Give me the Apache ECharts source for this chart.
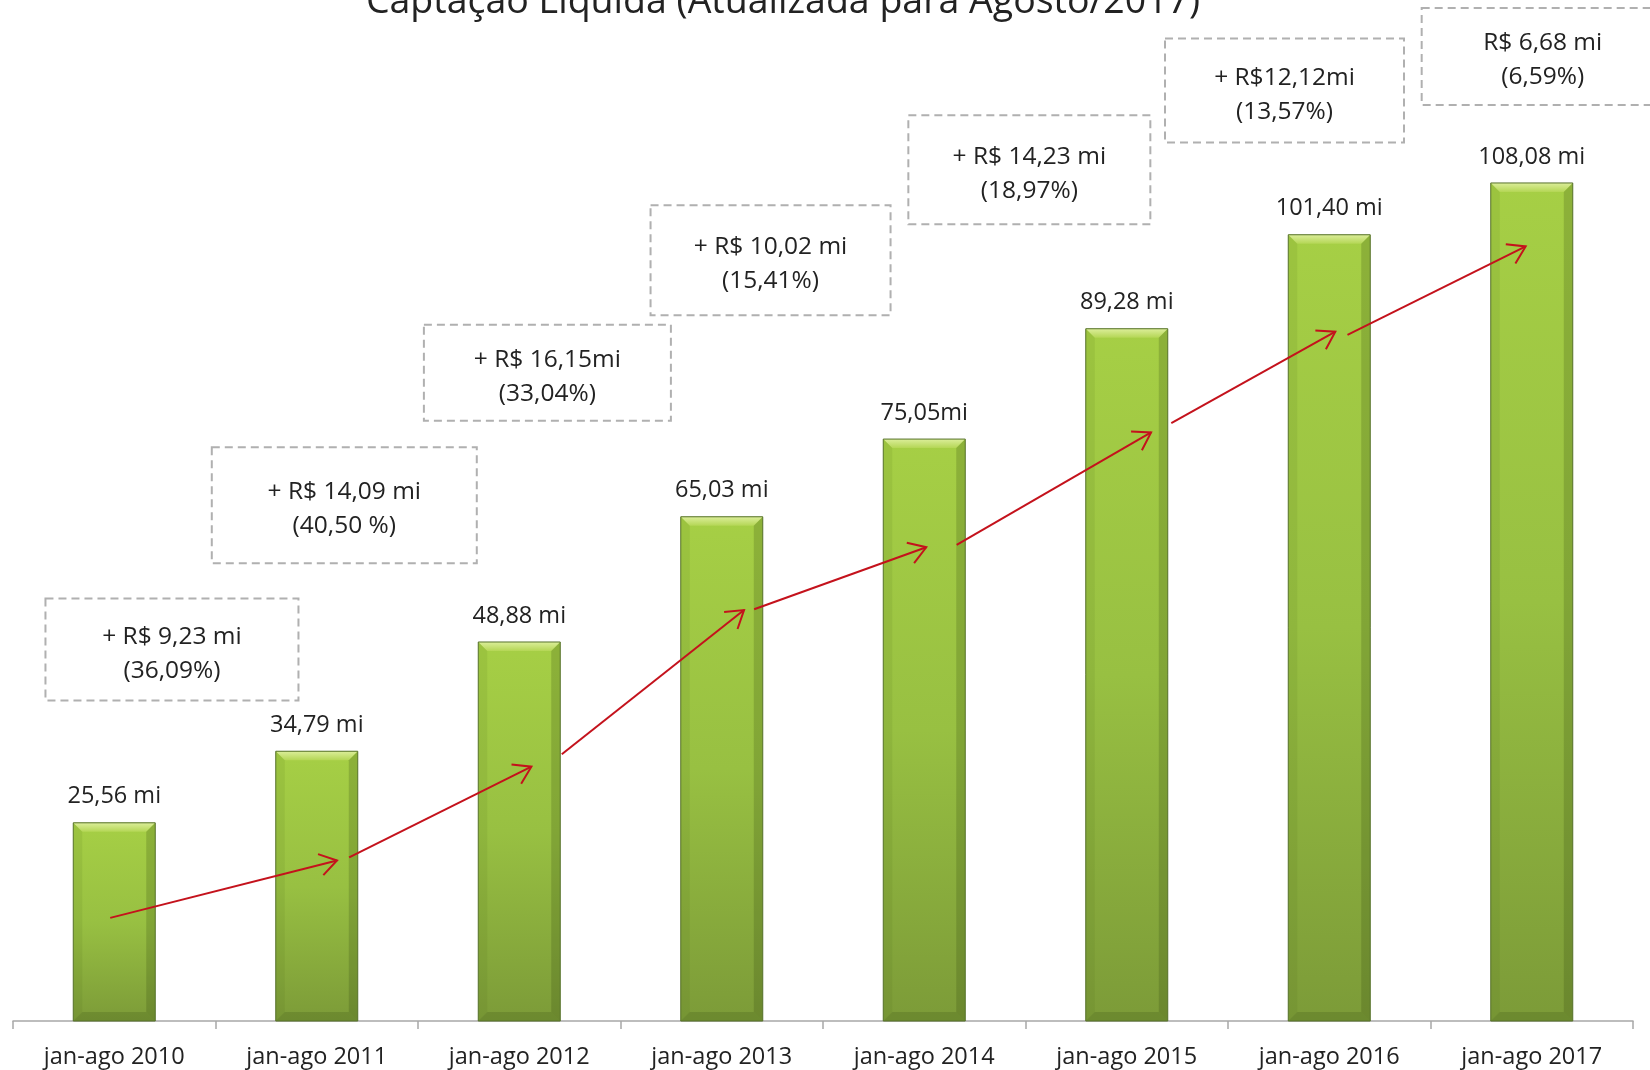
<!DOCTYPE html>
<html>
<head>
<meta charset="utf-8">
<script src="https://cdn.jsdelivr.net/npm/echarts@6/dist/echarts.min.js"></script>
<style>
html,body{margin:0;padding:0;background:#ffffff;}
#chart{width:1650px;height:1070px;}
</style>
</head>
<body>
<div id="chart"></div>
<script>
// ---------- DATA ----------
const categories = ['jan-ago 2010','jan-ago 2011','jan-ago 2012','jan-ago 2013','jan-ago 2014','jan-ago 2015','jan-ago 2016','jan-ago 2017'];
const values = [25.56, 34.79, 48.88, 65.03, 75.05, 89.28, 101.40, 108.08];
const valueLabels = ['25,56 mi','34,79 mi','48,88 mi','65,03 mi','75,05mi','89,28 mi','101,40 mi','108,08 mi'];
const growthAmounts = ['+ R$ 9,23 mi','+ R$ 14,09 mi','+ R$ 16,15mi','+ R$ 10,02 mi','+ R$ 14,23 mi','+ R$12,12mi','R$ 6,68 mi'];
const growthPercents = ['(36,09%)','(40,50 %)','(33,04%)','(15,41%)','(18,97%)','(13,57%)','(6,59%)'];
const titleText = 'Captação Líquida (Atualizada para Agosto/2017)';

// ---------- ANNOTATION LAYOUT (category index, value units / px sizes) ----------
// arrows: [xStart, yStart, xEnd, yEnd]
const arrowLayout = [
  [-0.02, 13.3, 1.10, 20.7],
  [1.16, 21.1, 2.06, 32.8],
  [2.21, 34.4, 3.11, 53.0],
  [3.16, 53.1, 4.01, 61.1],
  [4.16, 61.4, 5.12, 75.9],
  [5.22, 77.1, 6.03, 88.9],
  [6.09, 88.5, 6.97, 99.9]
];
// boxes: [xCenter, yCenter, widthPx, heightPx]
const boxLayout = [
  [0.285, 47.9, 253, 102],
  [1.136, 66.5, 265, 116],
  [2.139, 83.6, 247, 96],
  [3.241, 98.1, 240, 110],
  [4.519, 109.8, 242, 109],
  [5.779, 120.0, 239, 104],
  [7.054, 124.4, 242, 97]
];

const FONT = '"Open Sans", "Noto Sans", sans-serif';
const TEXT_COLOR = '#222222';
const BAR_W = 82;
const ARROW_COLOR = '#C4121C';

function renderBevel(params, api) {
  const idx = api.value(0), v = api.value(1);
  const top = api.coord([idx, v]);
  const base = api.coord([idx, 0]);
  const x = top[0], t = top[1], bY = base[1];
  const h = BAR_W / 2, b = 9;
  return {
    type: 'group',
    children: [
      { type: 'polygon', shape: { points: [[x-h,t],[x+h,t],[x+h-b,t+b],[x-h+b,t+b]] },
        style: { fill: new echarts.graphic.LinearGradient(0,0,0,1,[{offset:0,color:'#DCEE9A'},{offset:1,color:'#B4D655'}]) } },
      { type: 'polygon', shape: { points: [[x-h,t],[x-h+b,t+b],[x-h+b,bY-b],[x-h,bY]] },
        style: { fill: 'rgba(70,100,20,0.10)' } },
      { type: 'polygon', shape: { points: [[x+h,t],[x+h-b,t+b],[x+h-b,bY-b],[x+h,bY]] },
        style: { fill: 'rgba(40,60,10,0.20)' } },
      { type: 'polygon', shape: { points: [[x-h,bY],[x-h+b,bY-b],[x+h-b,bY-b],[x+h,bY]] },
        style: { fill: 'rgba(40,60,10,0.18)' } },
      { type: 'rect', shape: { x: x-h, y: t, width: BAR_W, height: bY - t },
        style: { fill: null, stroke: '#56712A', lineWidth: 1 } }
    ]
  };
}

function renderArrow(params, api) {
  const a = api.coord([api.value(0), api.value(1)]);
  const b = api.coord([api.value(2), api.value(3)]);
  const ang = Math.atan2(b[1]-a[1], b[0]-a[0]);
  const L = 20, sp = Math.PI / 5.5;
  const h1 = [b[0] - L*Math.cos(ang - sp), b[1] - L*Math.sin(ang - sp)];
  const h2 = [b[0] - L*Math.cos(ang + sp), b[1] - L*Math.sin(ang + sp)];
  return {
    type: 'group',
    children: [
      { type: 'line', shape: { x1: a[0], y1: a[1], x2: b[0], y2: b[1] },
        style: { stroke: ARROW_COLOR, lineWidth: 2 } },
      { type: 'polyline', shape: { points: [h1, b, h2] },
        style: { stroke: ARROW_COLOR, fill: null, lineWidth: 2 } }
    ]
  };
}

function renderBox(params, api) {
  const i = params.dataIndex;
  const p = api.coord([api.value(0), api.value(1)]);
  const w = boxLayout[i][2], hgt = boxLayout[i][3];
  return {
    type: 'group',
    children: [
      { type: 'rect', shape: { x: p[0]-w/2, y: p[1]-hgt/2, width: w, height: hgt },
        style: { fill: null, stroke: '#B0B0B0', lineWidth: 2, lineDash: [8, 5] } },
      { type: 'text', style: {
          text: growthAmounts[i] + '\n' + growthPercents[i],
          x: p[0], y: p[1] + 4, align: 'center', verticalAlign: 'middle',
          fontSize: 24.5, fontFamily: FONT, fill: TEXT_COLOR, lineHeight: 34 } }
    ]
  };
}

const chart = echarts.init(document.getElementById('chart'), null, { renderer: 'canvas' });
chart.setOption({
  backgroundColor: '#ffffff',
  animation: false,
  graphic: [{
    type: 'text', z: 10,
    style: {
      text: titleText, x: 783, y: -17, align: 'center', verticalAlign: 'top',
      fontSize: 37.5, fontFamily: FONT, fill: TEXT_COLOR
    }
  }],
  grid: { left: 13, right: 17, top: 13, bottom: 49, containLabel: false, outerBoundsMode: 'none' },
  xAxis: [
    {
      type: 'category', data: categories, boundaryGap: true,
      axisLine: { show: true, lineStyle: { color: '#A8A8A8', width: 1.5 } },
      axisTick: { show: true, length: 8, lineStyle: { color: '#A8A8A8', width: 1.5 } },
      axisLabel: { fontSize: 23.5, fontFamily: FONT, color: TEXT_COLOR, margin: 24, interval: 0 },
      splitLine: { show: false }
    },
    { type: 'value', min: -0.5, max: 7.5, show: false, position: 'top' }
  ],
  yAxis: { type: 'value', min: 0, max: 130, show: false, splitLine: { show: false } },
  series: [
    {
      type: 'bar', data: values, barWidth: BAR_W, z: 2,
      itemStyle: {
        color: new echarts.graphic.LinearGradient(0,0,0,1,[
          { offset: 0, color: '#A6CF45' },
          { offset: 0.5, color: '#98C042' },
          { offset: 1, color: '#7C9B38' }
        ])
      },
      label: {
        show: true, position: 'top', distance: 14,
        fontSize: 23.5, fontFamily: FONT, color: TEXT_COLOR,
        formatter: p => valueLabels[p.dataIndex]
      }
    },
    {
      type: 'custom', z: 3, silent: true,
      data: values.map((v, i) => [i, v]),
      encode: { x: 0, y: 1 },
      renderItem: renderBevel
    },
    {
      type: 'custom', z: 4, silent: true, xAxisIndex: 1,
      data: boxLayout.map(b => [b[0], b[1]]),
      encode: { x: 0, y: 1 },
      renderItem: renderBox
    },
    {
      type: 'custom', z: 5, silent: true, xAxisIndex: 1,
      data: arrowLayout,
      encode: { x: [0, 2], y: [1, 3] },
      renderItem: renderArrow
    }
  ]
});
</script>
</body>
</html>
